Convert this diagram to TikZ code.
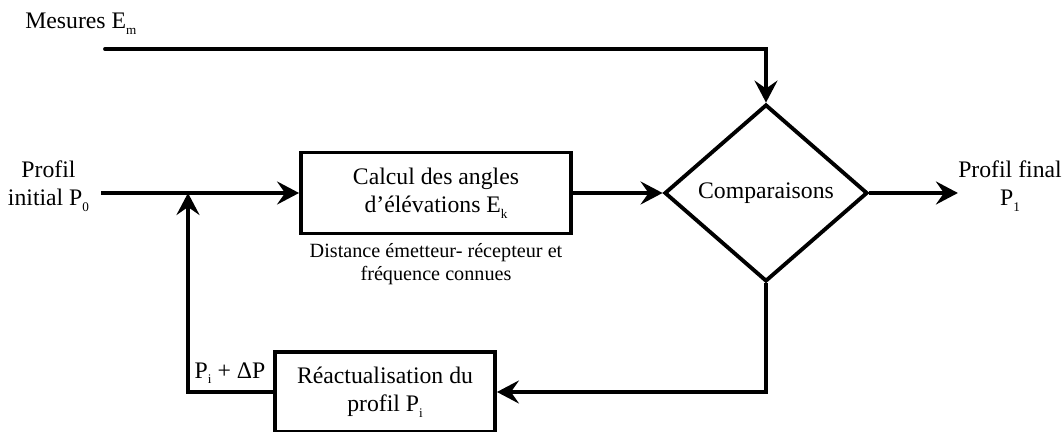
\documentclass[tikz,border=0pt]{standalone}
\usepackage{fontspec}
\setmainfont{Liberation Serif}
\usepackage{tikz}
\usetikzlibrary{arrows.meta,positioning,shapes.geometric}
\newcommand\lowsub[1]{\raisebox{-0.5ex}{\fontsize{7.5}{8}\selectfont #1}}

\begin{document}
\begin{tikzpicture}[
  font=\fontsize{13.5}{16}\selectfont,
  box/.style={draw, line width=2.2pt, align=center, inner sep=0pt},
  calcbox/.style={box, minimum width=5.4cm, minimum height=1.62cm},
  updbox/.style={box, minimum width=4.4cm, minimum height=1.6cm},
  decision/.style={draw, line width=2.2pt, diamond, aspect=1.15, inner sep=0pt,
    minimum width=4.06cm, minimum height=3.54cm},
  label/.style={inner sep=0pt, align=center},
  note/.style={label, font=\fontsize{11.5}{13}\selectfont},
  flow/.style={-{Stealth[length=4.4mm,width=4.6mm,inset=1.6mm]}, line width=2.2pt},
  node distance=1.5mm
]
\useasboundingbox (0,0) rectangle (21.28,8.64);

\node[label, anchor=base west] (mes) at (0.5,8.06) {Mesures E\lowsub{m}};
\coordinate (mesin) at (2.1,7.66);
\node[label] (init) at (0.97,4.92) {Profil\\initial P\lowsub{0}};
\node[calcbox] (calc) at (8.72,4.78) {Calcul des angles\\d’élévations E\lowsub{k}};
\node[note, below=of calc] (dist) {Distance émetteur- récepteur et\\fréquence connues};
\node[decision] (cmp) at (15.32,4.78) {Comparaisons};
\node[label] (final) at (20.2,4.92) {Profil final\\P\lowsub{1}};
\node[updbox] (upd) at (7.7,0.8) {Réactualisation du\\profil P\lowsub{i}};
\node[label] (delta) at (4.6,1.18) {P\lowsub{i} + ΔP};
\coordinate (j) at (3.76,4.78);

\draw[flow, line cap=round] (mesin) -| (cmp.north);
\draw[flow] ([xshift=2.4mm]init.east |- calc.west) -- (calc.west);
\draw[flow] (calc.east) -- (cmp.west);
\draw[flow] (cmp.east) -- (final.west |- cmp.east);
\draw[flow] (cmp.south) |- (upd.east);
\draw[flow] (upd.west) -| (j);
\end{tikzpicture}
\end{document}
